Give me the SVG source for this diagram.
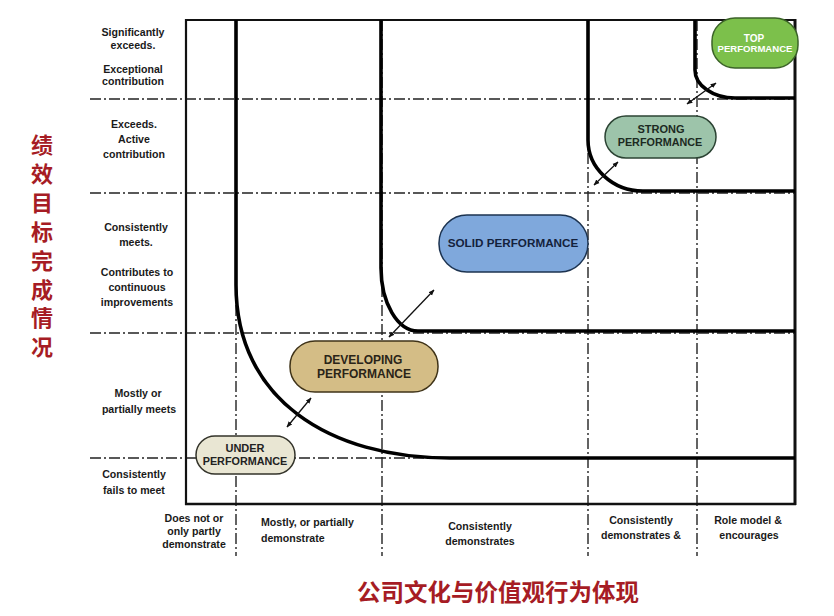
<svg xmlns="http://www.w3.org/2000/svg" width="834" height="616" viewBox="0 0 834 616">
<defs>
<style>
.dd{stroke:#222;stroke-width:1.4;stroke-dasharray:11 3 2 3;fill:none}
.frame{stroke:#111;fill:none}
.thick{stroke:#000;stroke-width:3.6;fill:none;stroke-linecap:butt}
.lbl{font-family:"Liberation Sans",Arial,sans-serif;font-weight:bold;font-size:10.6px;fill:#1a1a1a;text-anchor:middle}
.lbll{font-family:"Liberation Sans",Arial,sans-serif;font-weight:bold;font-size:10.6px;fill:#1a1a1a}
.nt{font-family:"Liberation Sans",Arial,sans-serif;font-weight:bold;text-anchor:middle}
.cn{font-family:"Noto Sans CJK SC",sans-serif;font-weight:bold;fill:#a61c24}
.arr{stroke:#111;stroke-width:1.3;fill:none;marker-start:url(#ah);marker-end:url(#ah)}
</style>
<marker id="ah" viewBox="0 0 10 10" refX="9" refY="5" markerWidth="6" markerHeight="6" orient="auto-start-reverse" markerUnits="userSpaceOnUse">
<path d="M0,1 L10,5 L0,9 z" fill="#111"/>
</marker>
</defs>
<rect width="834" height="616" fill="#fff"/>
<g id="grid">
<line class="dd" x1="90" y1="99" x2="795" y2="99"/>
<line class="dd" x1="90" y1="193" x2="795" y2="193"/>
<line class="dd" x1="90" y1="333" x2="795" y2="333"/>
<line class="dd" x1="90" y1="458" x2="795" y2="458"/>
<line class="dd" x1="236" y1="20" x2="236" y2="556"/>
<line class="dd" x1="382" y1="20" x2="382" y2="556"/>
<line class="dd" x1="588" y1="20" x2="588" y2="556"/>
<line class="dd" x1="697" y1="20" x2="697" y2="556"/>
</g>
<g id="frame">
<line class="frame" stroke-width="2" x1="185" y1="20" x2="795" y2="20"/>
<line class="frame" stroke-width="2.2" x1="186" y1="19" x2="186" y2="505"/>
<line class="frame" stroke-width="2.6" x1="185" y1="504" x2="796" y2="504"/>
<line class="frame" stroke-width="3" x1="795" y1="19" x2="795" y2="505"/>
</g>
<g id="boundaries">
<path class="thick" d="M236,20 L236,285 C236,400 330,458 450,458 L795,458"/>
<path class="thick" d="M381,20 L381,268 A37,63 0 0 0 418,331 L795,331"/>
<path class="thick" d="M588,20 L588,140 A55,51 0 0 0 643,191 L795,191"/>
<path class="thick" d="M695,20 L695,70 A40,28 0 0 0 735,98 L795,98"/>
</g>
<g id="connectors">
<line class="arr" x1="287" y1="427" x2="311" y2="398"/>
<line class="arr" x1="389" y1="337" x2="434" y2="290"/>
<line class="arr" x1="594" y1="185" x2="618" y2="162"/>
<line class="arr" x1="687" y1="104" x2="716" y2="83"/>
</g>
<g id="node-top">
<rect x="712" y="18" width="86" height="50" rx="23" fill="#7cc04b" stroke="#3b6328" stroke-width="1.5"/>
<text class="nt" x="754" y="42" font-size="10" fill="#fff">TOP</text>
<text class="nt" x="755" y="52" font-size="9.6" fill="#fff" textLength="75" lengthAdjust="spacingAndGlyphs">PERFORMANCE</text>
</g>
<g id="node-strong">
<rect x="605" y="116" width="111" height="42" rx="21" fill="#9dc4aa" stroke="#2c4434" stroke-width="1.5"/>
<text class="nt" x="661" y="133" font-size="11" fill="#1c2a22">STRONG</text>
<text class="nt" x="660" y="146" font-size="10.8" fill="#1c2a22">PERFORMANCE</text>
</g>
<g id="node-solid">
<rect x="439" y="215" width="149" height="57" rx="28" fill="#7fa8dc" stroke="#1c3350" stroke-width="1.5"/>
<text class="nt" x="513" y="247" font-size="11.7" fill="#14223c">SOLID PERFORMANCE</text>
</g>
<g id="node-developing">
<rect x="290" y="341" width="148" height="51" rx="25" fill="#d4bd86" stroke="#3f3318" stroke-width="1.5"/>
<text class="nt" x="363" y="364" font-size="12" fill="#2a2418">DEVELOPING</text>
<text class="nt" x="364" y="378" font-size="12" fill="#2a2418">PERFORMANCE</text>
</g>
<g id="node-under">
<rect x="196" y="436" width="99" height="38" rx="19" fill="#e9e6d3" stroke="#33332a" stroke-width="1.5"/>
<text class="nt" x="245" y="452" font-size="11" fill="#222">UNDER</text>
<text class="nt" x="245" y="465" font-size="10.8" fill="#222">PERFORMANCE</text>
</g>
<g id="y-labels">
<text class="lbl" x="133" y="36">Significantly</text>
<text class="lbl" x="133" y="48.5">exceeds.</text>
<text class="lbl" x="133" y="72.5">Exceptional</text>
<text class="lbl" x="133" y="85">contribution</text>
<text class="lbl" x="134" y="128">Exceeds.</text>
<text class="lbl" x="134" y="143">Active</text>
<text class="lbl" x="134" y="158">contribution</text>
<text class="lbl" x="136" y="231">Consistently</text>
<text class="lbl" x="136" y="246">meets.</text>
<text class="lbl" x="137" y="276">Contributes to</text>
<text class="lbl" x="137" y="291">continuous</text>
<text class="lbl" x="137" y="306">improvements</text>
<text class="lbl" x="138" y="397">Mostly or</text>
<text class="lbl" x="139" y="413">partially meets</text>
<text class="lbl" x="134" y="478">Consistently</text>
<text class="lbl" x="134" y="494">fails to meet</text>
</g>
<g id="x-labels">
<text class="lbl" x="194" y="521.5">Does not or</text>
<text class="lbl" x="194" y="534.5">only partly</text>
<text class="lbl" x="194" y="547.5">demonstrate</text>
<text class="lbll" x="261" y="526">Mostly, or partially</text>
<text class="lbll" x="261" y="542">demonstrate</text>
<text class="lbl" x="480" y="530">Consistently</text>
<text class="lbl" x="480" y="545">demonstrates</text>
<text class="lbl" x="641" y="524">Consistently</text>
<text class="lbl" x="641" y="539">demonstrates &amp;</text>
<text class="lbl" x="748" y="524">Role model &amp;</text>
<text class="lbl" x="749" y="539">encourages</text>
</g>
<g id="y-title">
<text class="cn" font-size="22" text-anchor="middle" x="42" y="153">绩<tspan x="42" dy="28.9">效</tspan><tspan x="42" dy="28.9">目</tspan><tspan x="42" dy="28.9">标</tspan><tspan x="42" dy="28.9">完</tspan><tspan x="42" dy="28.9">成</tspan><tspan x="42" dy="28.9">情</tspan><tspan x="42" dy="28.9">况</tspan></text>
</g>
<g id="x-title">
<text class="cn" x="357" y="601" font-size="23.5">公司文化与价值观行为体现</text>
</g>
</svg>
